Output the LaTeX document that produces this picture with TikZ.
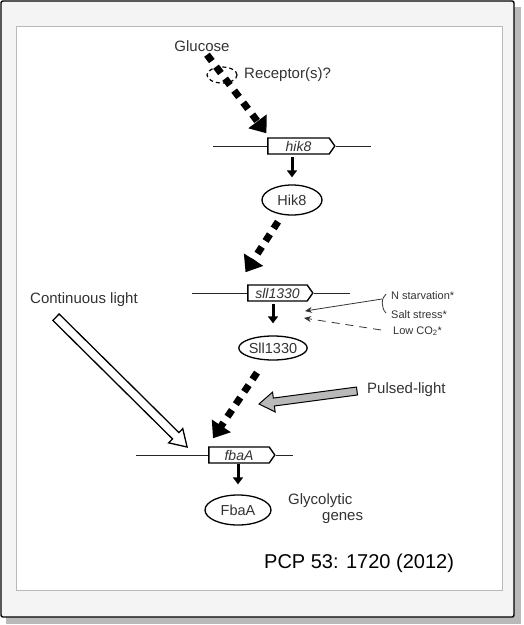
\documentclass[tikz,border=0pt]{standalone}
\usepackage{fontspec}
\setmainfont{Liberation Sans}
\usetikzlibrary{arrows.meta,calc,shapes.geometric,shapes.symbols}
\newcommand\myfatarrow[6]{%
  \coordinate (#1h) at ($(#2)!#5!(#1)$);
  \draw[#6] ($(#1)!#3!90:(#2)$) -- ($(#1h)!#3!90:(#2)$) -- ($(#1h)!#4!90:(#2)$) -- (#2) -- ($(#1h)!#4!-90:(#2)$) -- ($(#1h)!#3!-90:(#2)$) -- ($(#1)!#3!-90:(#2)$) -- cycle;}
\begin{document}
\begin{tikzpicture}[x=1pt,y=-1pt,
  lbl/.style={font=\fontsize{15}{17}\selectfont, text=black!80, inner sep=0pt},
  small/.style={font=\fontsize{11}{13}\selectfont, text=black!80, inner sep=0pt, anchor=west},
  prot/.style={ellipse, draw, line width=1.3pt, fill=white, font=\fontsize{14.5}{16}\selectfont, text=black!80, inner sep=0pt},
  genebox/.style={signal, signal to=east, signal pointer angle=110, draw, line width=1.4pt, fill=white, minimum height=16pt, inner sep=0pt, font=\itshape\fontsize{14}{16}\selectfont, text=black!80},
  dna/.style={line width=1pt, black!85},
  bigdash/.style={line width=7pt, dash pattern=on 8pt off 7pt, -{Triangle[length=15pt,width=22pt]}},
  expr/.style={line width=3pt, -{Triangle[length=7pt,width=10pt]}},
  inarrow/.style={line width=0.8pt, black!80, -{Stealth[length=7pt,width=6pt]}},
]
\useasboundingbox (0,0) rectangle (524,625);
% frame
\fill[gray!55] (6,7) rectangle (521,624);
\draw[line width=1.4pt, fill=gray!9, rounded corners=2pt] (1,1) rectangle (514,617);
\draw[gray!55, line width=0.8pt, fill=white] (16,26) rectangle (502,590);

% genes
\node[genebox, minimum width=67pt] (hik8) at (298.5,146) {hik8};
\coordinate (hikL) at (213,146); \coordinate (hikR) at (371,146);
\node[genebox, minimum width=65pt] (sll) at (277.5,293) {sll1330};
\coordinate (sllL) at (192,293); \coordinate (sllR) at (350,293);
\node[genebox, minimum width=66pt] (fba) at (239,455) {fbaA};
\coordinate (fbaL) at (136,455); \coordinate (fbaR) at (293,455);
\begin{scope}[on background layer/.try]
\end{scope}
\draw[dna] (hikL) -- (hik8.west); \draw[dna] (hik8.east) -- (hikR);
\draw[dna] (sllL) -- (sll.west); \draw[dna] (sll.east) -- (sllR);
\draw[dna] (fbaL) -- (fba.west); \draw[dna] (fba.east) -- (fbaR);

% proteins
\node[prot, minimum width=60pt, minimum height=30pt] (Hik8) at (292,200) {Hik8};
\node[prot, minimum width=64pt, minimum height=24pt] (Sll) at (273,348) {Sll1330};
\node[prot, minimum width=66pt, minimum height=30pt] (FbaA) at (238,510) {FbaA};

% labels
\node[lbl] (glu) at (202,46) {Glucose};
\node[ellipse, draw, dash pattern=on 4pt off 3pt, line width=1.2pt, minimum width=30pt, minimum height=16pt] (rec) at (222,75) {};
\node[lbl, anchor=west] (recl) at (244,75) {Receptor(s)?};
\node[lbl, anchor=west] (cont) at (30,300) {Continuous light};
\node[lbl, anchor=west] (pulse) at (367,390) {Pulsed-light};
\node[lbl, anchor=west] (gly) at (288,501) {Glycolytic};
\node[lbl, anchor=west] (genes) at (322,518) {genes};
\node[font=\fontsize{20}{22}\selectfont, inner sep=0pt, anchor=west] (pcp) at (264,563) {PCP 53: 1720 (2012)};
\node[small] (nst) at (391,296) {N starvation*};
\node[small] (salt) at (391,315) {Salt stress*};
\node[small] (lco) at (393,331) {Low CO\textsubscript{2}*};

% signalling arrows
\draw[bigdash] ($(glu.south)+(5,3)$) -- ($(hik8.north)+(-32,-4)$);
\draw[bigdash] ($(Hik8.south)+(-14,6)$) -- ($(sll.north)+(-32,-12)$);
\draw[bigdash] ($(Sll.south)+(-16,12)$) -- ($(fba.north)+(-26,-8)$);

% expression arrows
\draw[expr] ($(Hik8.north)+(0,-27)$) -- ($(Hik8.north)+(0,-7)$);
\draw[expr] ($(Sll.north)+(0,-31)$) -- ($(Sll.north)+(0,-12)$);
\draw[expr] ($(FbaA.north)+(0,-30)$) -- ($(FbaA.north)+(0,-10)$);

% light arrows
\coordinate (clA) at ($(cont.south)+(-28,10)$);
\coordinate (clB) at ($(fba.west)+(-21,-8)$);
\myfatarrow{clA}{clB}{4.5pt}{10pt}{16pt}{fill=white, line width=1.3pt}
\coordinate (plA) at ($(pulse.west)+(-10,1)$);
\coordinate (plB) at (259,404);
\myfatarrow{plA}{plB}{4pt}{10pt}{15pt}{fill=gray!55, line width=1pt}

% stress inputs
\draw[line width=0.8pt, black!80] (386,294) .. controls (381,298) and (381,308) .. (386,313);
\coordinate (brk) at (382,299);
\coordinate (nsalt) at (305,311);
\draw[inarrow] (brk) -- (nsalt);
\coordinate (lcoS) at ($(lco.west)+(-12,-1)$);
\coordinate (lcoE) at (304,318);
\draw[inarrow, dash pattern=on 8pt off 6pt] (lcoS) -- (lcoE);
\end{tikzpicture}
\end{document}
